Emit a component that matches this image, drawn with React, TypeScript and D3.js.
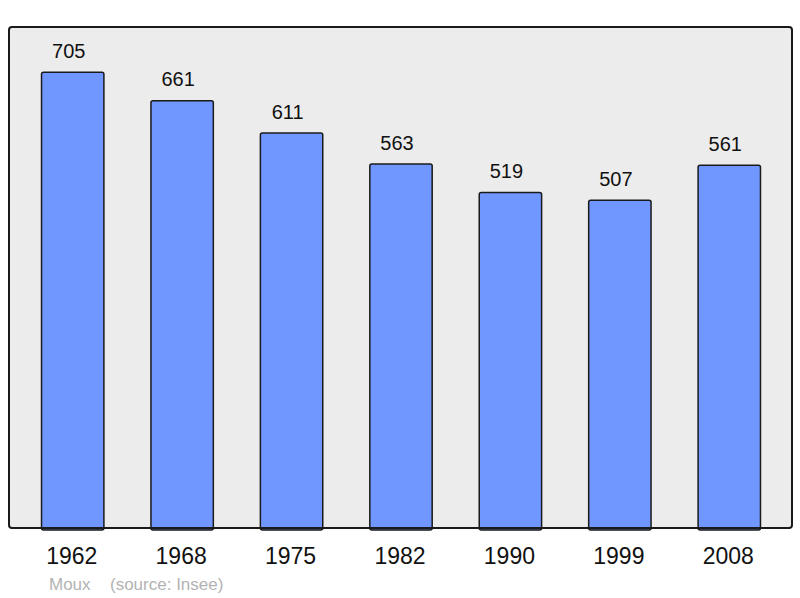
import React, { useEffect, useRef } from 'react';
import * as d3 from 'd3';

const years = ['1962', '1968', '1975', '1982', '1990', '1999', '2008'];
const population = [705, 661, 611, 563, 519, 507, 561];

const width = 800;
const height = 598;

const App: React.FC = () => {
  const svgRef = useRef<SVGSVGElement>(null);

  useEffect(() => {
    if (!svgRef.current) return;
    const svg = d3.select(svgRef.current);
    svg.selectAll('*').remove();

    const font = '"Liberation Sans", Arial, sans-serif';
    const panel = { left: 9, top: 27, right: 792, bottom: 528 };

    // Background panel
    svg.append('rect')
      .attr('x', panel.left)
      .attr('y', panel.top)
      .attr('width', panel.right - panel.left)
      .attr('height', panel.bottom - panel.top)
      .attr('rx', 3)
      .attr('fill', '#ececec')
      .attr('stroke', '#1a1a1a')
      .attr('stroke-width', 2);

    const xScale = d3.scaleBand<string>()
      .domain(years)
      .range([18, 784])
      .paddingInner(0.43)
      .paddingOuter(0.215);

    const yScale = d3.scaleLinear()
      .domain([0, 775])
      .range([panel.bottom, panel.top]);

    const data = years.map((y, i) => ({ year: y, value: population[i] }));

    // Bars
    svg.selectAll('.bar')
      .data(data)
      .enter().append('rect')
      .attr('class', 'bar')
      .attr('x', d => xScale(d.year) || 0)
      .attr('y', d => yScale(d.value))
      .attr('width', xScale.bandwidth())
      .attr('height', d => panel.bottom - yScale(d.value) + 2)
      .attr('rx', 2)
      .attr('fill', '#7097ff')
      .attr('stroke', '#1a1a1a')
      .attr('stroke-width', 1.5);

    // Redraw bottom border over bar bottoms
    svg.append('line')
      .attr('x1', panel.left + 2)
      .attr('x2', panel.right - 2)
      .attr('y1', panel.bottom)
      .attr('y2', panel.bottom)
      .attr('stroke', '#1a1a1a')
      .attr('stroke-width', 2);

    // Value labels
    svg.selectAll('.label')
      .data(data)
      .enter().append('text')
      .attr('class', 'label')
      .attr('x', d => (xScale(d.year) || 0) + xScale.bandwidth() / 2 - 4)
      .attr('y', d => yScale(d.value) - 14.5)
      .attr('text-anchor', 'middle')
      .style('font-family', font)
      .style('font-size', '20px')
      .style('fill', '#111')
      .text(d => d.value);

    // Year labels
    svg.selectAll('.year')
      .data(data)
      .enter().append('text')
      .attr('class', 'year')
      .attr('x', d => (xScale(d.year) || 0) + xScale.bandwidth() / 2 - 1)
      .attr('y', 564)
      .attr('text-anchor', 'middle')
      .style('font-family', font)
      .style('font-size', '23px')
      .style('fill', '#111')
      .text(d => d.year);

    // Footer
    svg.append('text')
      .attr('x', 49)
      .attr('y', 590)
      .style('font-family', font)
      .style('font-size', '17px')
      .style('fill', '#b3b3b3')
      .text('Moux');

    svg.append('text')
      .attr('x', 110)
      .attr('y', 590)
      .style('font-family', font)
      .style('font-size', '17px')
      .style('fill', '#b3b3b3')
      .text('(source: Insee)');
  }, []);

  return (
    <div style={{ position: 'absolute', left: 0, top: 0, background: 'white' }}>
      <svg ref={svgRef} width={width} height={height} style={{ display: 'block' }}></svg>
    </div>
  );
};

export default App;
